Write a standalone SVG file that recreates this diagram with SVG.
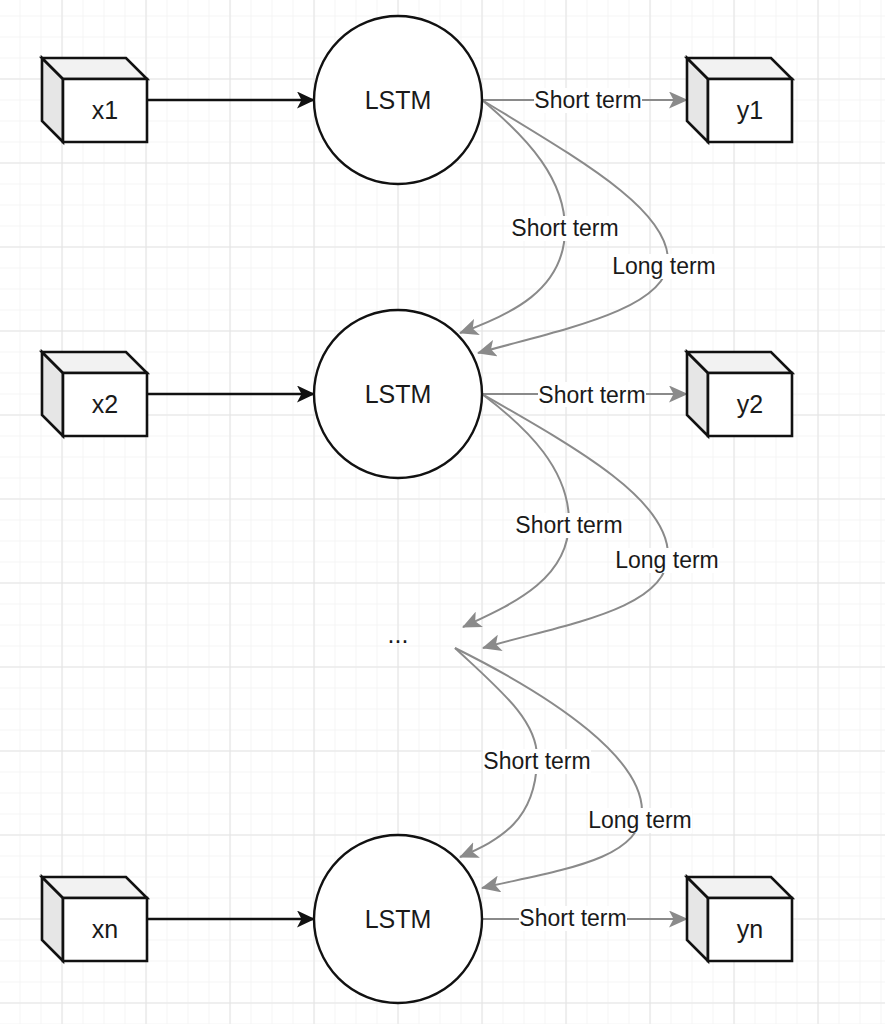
<svg xmlns="http://www.w3.org/2000/svg" width="885" height="1024" viewBox="0 0 885 1024">
<defs>
<style>
.cube path{stroke:#111;stroke-width:2.6;stroke-linejoin:miter}
.front{fill:#fff}
.side{fill:#e6e6e6}
.top{fill:#f2f2f2}
.edge{fill:none;stroke:#111;stroke-width:2.6}
.lstm{fill:#fff;stroke:#111;stroke-width:2.4}
.ntext{font-family:"Liberation Sans",Arial,sans-serif;font-size:25px;fill:#1a1a1a;text-anchor:middle}
.ltext{font-family:"Liberation Sans",Arial,sans-serif;font-size:23px;fill:#1a1a1a;text-anchor:middle}
.blk{fill:none;stroke:#111;stroke-width:2.4;marker-end:url(#ab)}
.gry{fill:none;stroke:#8a8a8a;stroke-width:2;marker-end:url(#ag)}
.lbg{fill:#fff}
</style>
<marker id="ab" viewBox="0 0 18 17" refX="17" refY="8.5" markerWidth="18" markerHeight="17" markerUnits="userSpaceOnUse" orient="auto">
<path d="M0,0 L18,8.5 L0,17 L4.5,8.5 Z" fill="#111"/>
</marker>
<marker id="ag" viewBox="0 0 19 17" refX="18" refY="8.5" markerWidth="19" markerHeight="17" markerUnits="userSpaceOnUse" orient="auto">
<path d="M0,0 L19,8.5 L0,17 L4.5,8.5 Z" fill="#8a8a8a"/>
</marker>
<pattern id="gmin" x="61.5" y="78.5" width="21" height="21" patternUnits="userSpaceOnUse">
<path d="M0,0.5 H21 M0.5,0 V21" stroke="#f4f4f4" stroke-width="1" fill="none"/>
</pattern>
<pattern id="gmaj" x="61.5" y="78.5" width="84" height="84" patternUnits="userSpaceOnUse">
<path d="M0,0.5 H84 M0.5,0 V84" stroke="#e4e4e4" stroke-width="1.2" fill="none"/>
</pattern>
</defs>
<rect width="885" height="1024" fill="#fff"/>
<rect width="885" height="1024" fill="url(#gmin)"/>
<rect width="885" height="1024" fill="url(#gmaj)"/>

<g id="connectors">
<path class="blk" d="M147,100 H314"/>
<path class="blk" d="M147,394 H314"/>
<path class="blk" d="M147,919 H314"/>
<path class="gry" d="M482,100 H687"/>
<path class="gry" d="M482,394 H687"/>
<path class="gry" d="M482,919 H687"/>
<path class="gry" d="M482,100 C530,140 565,180 565,229 C565,290 510,315 460,333"/>
<path class="gry" d="M482,100 C580,160 670,210 668,262 C666,310 560,330 478,353"/>
<path class="gry" d="M482,394 C530,430 568,470 569,520 C570,580 510,605 463,627"/>
<path class="gry" d="M482,394 C580,450 668,500 668,555 C668,610 560,625 483,648"/>
<path class="gry" d="M455,648 C500,690 537,720 537,757 C537,820 500,840 460,857"/>
<path class="gry" d="M455,648 C560,700 643,760 642,812 C640,860 560,870 482,888"/>
<g id="labels">
<rect class="lbg" x="534" y="88" width="108" height="25"/>
<text class="ltext" x="588" y="108">Short term</text>
<rect class="lbg" x="538" y="382" width="108" height="25"/>
<text class="ltext" x="592" y="403">Short term</text>
<rect class="lbg" x="519" y="906" width="108" height="25"/>
<text class="ltext" x="573" y="926">Short term</text>
<rect class="lbg" x="511" y="216" width="108" height="25"/>
<text class="ltext" x="565" y="236">Short term</text>
<rect class="lbg" x="612" y="254" width="104" height="25"/>
<text class="ltext" x="664" y="274">Long term</text>
<rect class="lbg" x="515" y="513" width="108" height="25"/>
<text class="ltext" x="569" y="533">Short term</text>
<rect class="lbg" x="615" y="548" width="104" height="25"/>
<text class="ltext" x="667" y="568">Long term</text>
<rect class="lbg" x="483" y="749" width="108" height="25"/>
<text class="ltext" x="537" y="769">Short term</text>
<rect class="lbg" x="588" y="808" width="104" height="25"/>
<text class="ltext" x="640" y="828">Long term</text>
</g>
</g>

<g id="lstm1"><circle class="lstm" cx="398" cy="100" r="84"/><text class="ntext" x="398" y="109">LSTM</text></g>
<g id="lstm2"><circle class="lstm" cx="398" cy="394" r="84"/><text class="ntext" x="398" y="403">LSTM</text></g>
<g id="lstm3"><circle class="lstm" cx="398" cy="919" r="84"/><text class="ntext" x="398" y="928">LSTM</text></g>
<g id="dots"><text class="ntext" x="398" y="643">...</text></g>

<g id="x1" class="cube" transform="translate(42,58)">
<path class="side" d="M0,0 L21,21 L21,84 L0,63 Z"/><path class="top" d="M0,0 L84,0 L105,21 L21,21 Z"/><path class="front" d="M21,21 H105 V84 H21 Z"/>
<text class="ntext" x="63" y="61">x1</text></g>
<g id="x2" class="cube" transform="translate(42,352)">
<path class="side" d="M0,0 L21,21 L21,84 L0,63 Z"/><path class="top" d="M0,0 L84,0 L105,21 L21,21 Z"/><path class="front" d="M21,21 H105 V84 H21 Z"/>
<text class="ntext" x="63" y="61">x2</text></g>
<g id="xn" class="cube" transform="translate(42,877)">
<path class="side" d="M0,0 L21,21 L21,84 L0,63 Z"/><path class="top" d="M0,0 L84,0 L105,21 L21,21 Z"/><path class="front" d="M21,21 H105 V84 H21 Z"/>
<text class="ntext" x="63" y="61">xn</text></g>
<g id="y1" class="cube" transform="translate(687,58)">
<path class="side" d="M0,0 L21,21 L21,84 L0,63 Z"/><path class="top" d="M0,0 L84,0 L105,21 L21,21 Z"/><path class="front" d="M21,21 H105 V84 H21 Z"/>
<text class="ntext" x="63" y="61">y1</text></g>
<g id="y2" class="cube" transform="translate(687,352)">
<path class="side" d="M0,0 L21,21 L21,84 L0,63 Z"/><path class="top" d="M0,0 L84,0 L105,21 L21,21 Z"/><path class="front" d="M21,21 H105 V84 H21 Z"/>
<text class="ntext" x="63" y="61">y2</text></g>
<g id="yn" class="cube" transform="translate(687,877)">
<path class="side" d="M0,0 L21,21 L21,84 L0,63 Z"/><path class="top" d="M0,0 L84,0 L105,21 L21,21 Z"/><path class="front" d="M21,21 H105 V84 H21 Z"/>
<text class="ntext" x="63" y="61">yn</text></g>
</svg>
